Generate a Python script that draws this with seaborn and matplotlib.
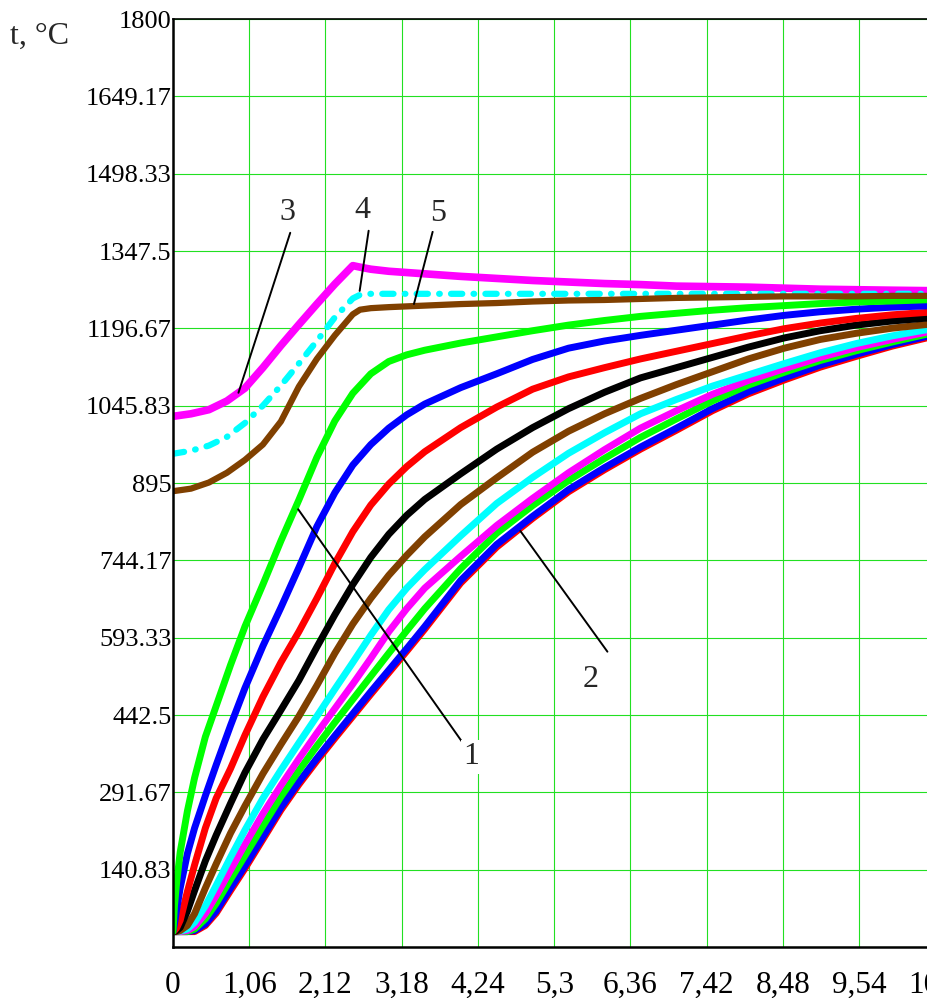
import numpy as np
import matplotlib
matplotlib.use("Agg")
import matplotlib.pyplot as plt
import seaborn as sns

sns.set_theme(style="white")
plt.rcParams["font.family"] = ["Liberation Serif", "DejaVu Serif"]

# ---------------------------------------------------------------- axes text
x_labels = ["0", "1,06", "2,12", "3,18", "4,24", "5,3", "6,36", "7,42", "8,48", "9,54", "10,6"]
y_labels = ["140.83", "291.67", "442.5", "593.33", "744.17", "895", "1045.83",
            "1196.67", "1347.5", "1498.33", "1649.17", "1800"]
y_label = "t, \u00b0C"

# ---------------------------------------------------------------- slab nodes
slab_time = [0, 0.02, 0.05, 0.1, 0.2, 0.3, 0.45, 0.6, 0.8, 1.0, 1.25, 1.5, 1.75,
             2.0, 2.25, 2.5, 2.75, 3.0, 3.25, 3.5, 4.0, 4.5, 5.0, 5.5, 6.0, 6.5,
             7.0, 7.5, 8.0, 8.5, 9.0, 9.5, 10.0, 10.6]

node_centre_r = [20, 20, 20, 20, 20, 20, 32, 56, 100, 143, 200, 257, 307, 353, 397, 440,
                 483, 525, 567, 610, 700, 770, 826, 878, 921, 961, 998, 1036, 1069, 1096,
                 1121, 1142, 1162, 1182]
node_centre = [20, 20, 20, 20, 20, 22, 35, 60, 105, 148, 205, 262, 312, 358, 402, 445,
               488, 530, 572, 615, 705, 775, 830, 882, 925, 965, 1002, 1040, 1073, 1100,
               1125, 1146, 1165, 1185]
node_8 = [20, 20, 20, 20, 20, 25, 45, 75, 122, 168, 226, 283, 334, 382, 428, 473,
          518, 563, 607, 650, 728, 797, 851, 900, 943, 984, 1020, 1055, 1086, 1111,
          1134, 1153, 1170, 1189]
node_7 = [20, 20, 20, 20, 22, 30, 55, 90, 140, 190, 250, 305, 357, 407, 455, 503,
          553, 605, 650, 690, 752, 812, 865, 915, 960, 1002, 1036, 1068, 1095, 1118,
          1140, 1159, 1175, 1193]
node_6 = [20, 20, 20, 21, 25, 38, 70, 110, 165, 218, 280, 335, 388, 440, 493, 545,
          598, 648, 690, 726, 792, 855, 906, 953, 993, 1030, 1058, 1084, 1106, 1128,
          1149, 1167, 1182, 1197]
node_5 = [20, 20, 20, 22, 32, 55, 105, 152, 212, 265, 328, 385, 440, 500, 563, 620,
          670, 715, 754, 790, 853, 905, 955, 996, 1030, 1060, 1087, 1112, 1137, 1158,
          1175, 1187, 1197, 1206]
node_4 = [20, 20, 22, 28, 60, 100, 158, 208, 270, 330, 395, 452, 510, 575, 638, 697,
          750, 795, 832, 863, 913, 961, 1003, 1040, 1072, 1100, 1120, 1140, 1160, 1178,
          1192, 1203, 1211, 1218]
node_3 = [20, 22, 27, 42, 98, 150, 222, 280, 338, 403, 478, 545, 605, 670, 738, 800,
          852, 893, 927, 956, 1003, 1043, 1078, 1102, 1120, 1137, 1152, 1167, 1182, 1196,
          1207, 1216, 1223, 1229]
node_2 = [20, 35, 62, 105, 172, 222, 285, 345, 422, 495, 577, 652, 730, 810, 876, 930,
          970, 1002, 1028, 1049, 1081, 1108, 1136, 1158, 1172, 1183, 1193, 1203, 1213, 1222,
          1229, 1234, 1238, 1241]
node_surface = [20, 70, 115, 175, 255, 320, 400, 460, 540, 615, 697, 782, 862, 945, 1016,
                1070, 1108, 1132, 1145, 1154, 1168, 1180, 1192, 1203, 1212, 1220, 1226,
                1232, 1237, 1241, 1245, 1248, 1250, 1253]

# ---------------------------------------------------------------- furnace curves
furnace_time = [0, 0.25, 0.5, 0.75, 1.0, 1.25, 1.5, 1.75, 2.0, 2.25, 2.5, 2.6, 2.75, 3.0,
                3.5, 4.0, 4.5, 5.0, 5.5, 6.0, 6.5, 7.0, 7.5, 8.0, 8.5, 9.0, 9.5, 10.0, 10.6]
gas_temp = [1025, 1030, 1038, 1055, 1080, 1120, 1163, 1204, 1244, 1283, 1319, 1316, 1312,
            1308, 1303, 1298, 1294, 1290, 1287, 1284, 1282, 1279, 1278, 1277, 1275, 1273,
            1272, 1271, 1270]
wall_temp = [952, 958, 968, 985, 1012, 1046, 1085, 1128, 1172, 1218, 1255, 1262, 1264,
             1264, 1264, 1264, 1264, 1264, 1264, 1264, 1264, 1264, 1264, 1264, 1264, 1264,
             1264, 1264, 1264]
lining_temp = [879, 884, 896, 915, 940, 970, 1015, 1083, 1137, 1183, 1224, 1233, 1236,
               1238, 1241, 1244, 1246, 1249, 1251, 1252, 1254, 1256, 1257, 1258, 1259,
               1259, 1259, 1260, 1260]

RED, BLUE, GREEN = "#ff0000", "#0000ff", "#00ff00"
MAGENTA, CYAN, BROWN, BLACK = "#ff00ff", "#00ffff", "#804000", "#000000"

fig = plt.figure(figsize=(9.28, 9.98), dpi=100)
ax = fig.add_axes([173 / 928, 51 / 998, 762.4 / 928, 928 / 998])

slab_series = [
    (node_centre_r, RED), (node_centre, BLUE), (node_8, GREEN), (node_7, MAGENTA),
    (node_6, CYAN), (node_5, BROWN), (node_4, BLACK), (node_3, RED), (node_2, BLUE),
    (node_surface, GREEN),
]
for values, colour in slab_series:
    sns.lineplot(x=slab_time, y=values, ax=ax, color=colour, linewidth=5,
                 estimator=None, sort=False, legend=False, solid_joinstyle="round")

sns.lineplot(x=furnace_time, y=gas_temp, ax=ax, color=MAGENTA, linewidth=5.5,
             estimator=None, sort=False, legend=False, solid_joinstyle="round")
sns.lineplot(x=furnace_time, y=wall_temp, ax=ax, color=CYAN, linewidth=4.5,
             estimator=None, sort=False, legend=False,
             linestyle=(0, (1.8, 1.8, 0.1, 1.8)), dash_capstyle="round")
sns.lineplot(x=furnace_time, y=lining_temp, ax=ax, color=BROWN, linewidth=4.5,
             estimator=None, sort=False, legend=False, solid_joinstyle="round")

# ---------------------------------------------------------------- axes styling
x_ticks = [float(s.replace(",", ".")) for s in x_labels]
y_ticks = [float(s) for s in y_labels]
ax.set_xlim(0, 10.6)
ax.set_ylim(-10, 1800)
ax.set_xticks(x_ticks)
ax.set_xticklabels(x_labels, fontsize=22.5)
ax.set_yticks([-10] + y_ticks)
ax.set_yticklabels([""] + y_labels, fontsize=19)
ax.tick_params(axis="x", length=0, pad=17, colors="black")
ax.tick_params(axis="y", length=0, pad=1, colors="black")
ax.set_xlabel("")
ax.set_ylabel("")
ax.grid(True, color="#22e022", linewidth=0.8)
ax.set_axisbelow(True)
for side in ("left", "bottom"):
    ax.spines[side].set_color("black")
    ax.spines[side].set_linewidth(1.8)
ax.spines["top"].set_color("black")
ax.spines["top"].set_linewidth(1.2)
ax.spines["right"].set_visible(False)

fig.text(10 / 928, 1 - 36 / 998, y_label, fontsize=23, ha="left", va="center")

# ---------------------------------------------------------------- curve callouts
callouts = [
    # text, text position, leader start, x of leader end, curve, offset
    ("3", (1.59, 1422), (1.63, 1383), 0.91, (furnace_time, gas_temp), 0),
    ("4", (2.63, 1426), (2.72, 1387), 2.595, (furnace_time, wall_temp), 8),
    ("5", (3.68, 1420), (3.61, 1385), 3.35, (furnace_time, lining_temp), 4),
    ("1", (4.14, 361), (4.03, 388), 1.74, (slab_time, node_surface), -15),
    ("2", (5.81, 511), (6.04, 566), 4.83, (slab_time, node_centre), -10),
]
for text, (tx, ty), (lx, ly), tip_x, (cx, cy), dy in callouts:
    tip_y = np.interp(tip_x, cx, cy) + dy
    ax.plot([lx, tip_x], [ly, tip_y], color="black", linewidth=1.4, zorder=5)
    ax.text(tx, ty, text, fontsize=23, ha="center", va="center", zorder=6,
            bbox=dict(facecolor="white", edgecolor="none", pad=1.5))

fig.savefig("out.png", dpi=100, facecolor="white")
